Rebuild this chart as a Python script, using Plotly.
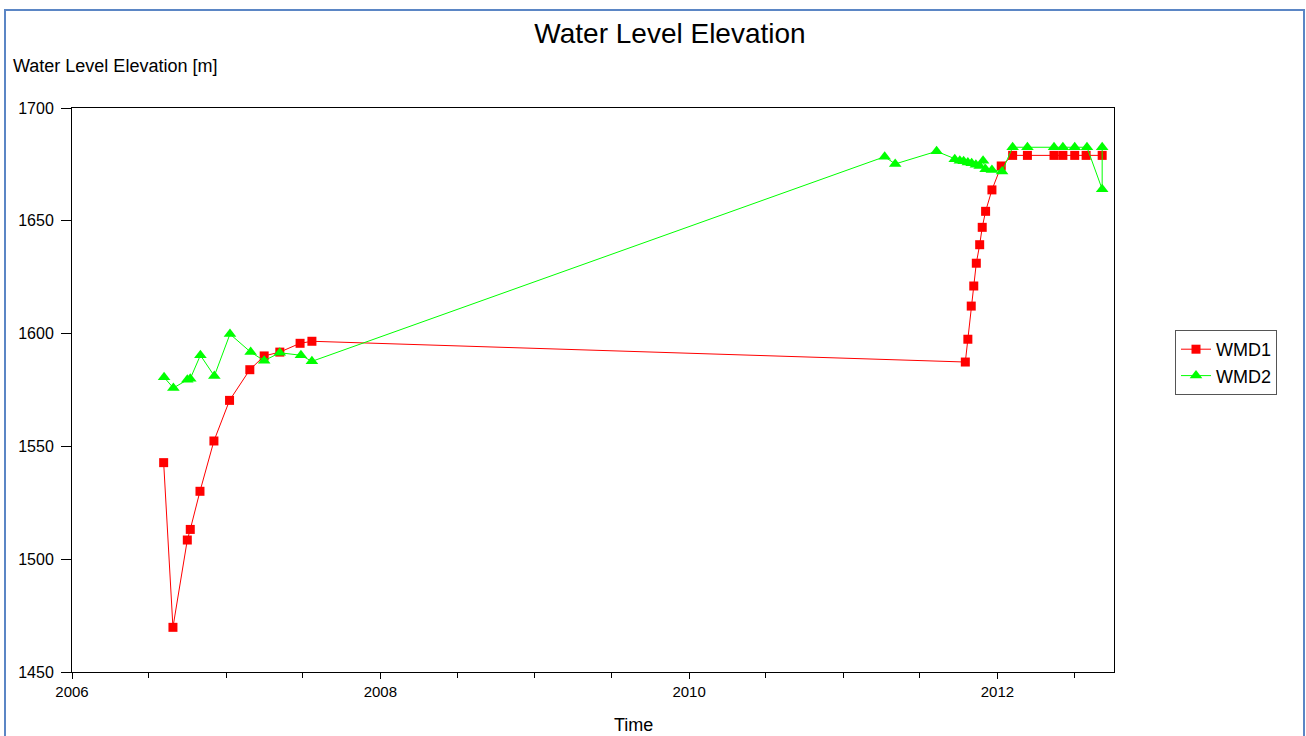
import plotly.graph_objects as go

# WMD1 data
wmd1_dates = ["2006-08-06", "2006-08-28", "2006-10-01", "2006-10-08", "2006-10-31", "2006-12-03",
              "2007-01-09", "2007-02-26", "2007-04-01", "2007-05-08", "2007-06-25", "2007-07-23",
              "2011-10-17", "2011-10-23", "2011-10-31", "2011-11-06", "2011-11-12", "2011-11-20",
              "2011-11-26", "2011-12-04", "2011-12-19", "2012-01-10", "2012-02-06", "2012-03-12",
              "2012-05-14", "2012-06-04", "2012-07-02", "2012-07-29", "2012-09-05"]
wmd1_values = [1542.8, 1469.8, 1508.5, 1513.2, 1530.1, 1552.4,
               1570.4, 1584.0, 1590.1, 1591.8, 1595.7, 1596.6,
               1587.4, 1597.5, 1612.2, 1621.1, 1631.2, 1639.4,
               1647.1, 1654.2, 1663.7, 1674.3, 1679.0, 1679.0,
               1679.0, 1679.0, 1679.0, 1679.0, 1679.0]

# WMD2 data
wmd2_dates = ["2006-08-07", "2006-08-29", "2006-10-01", "2006-10-08", "2006-11-01", "2006-12-04",
              "2007-01-10", "2007-02-28", "2007-04-01", "2007-05-08", "2007-06-27", "2007-07-23",
              "2011-04-09", "2011-05-04", "2011-08-10", "2011-09-22", "2011-10-04", "2011-10-13",
              "2011-10-23", "2011-11-01", "2011-11-11", "2011-11-20", "2011-11-28", "2011-12-04",
              "2011-12-19", "2012-01-12", "2012-02-06", "2012-03-12", "2012-05-14", "2012-06-04",
              "2012-07-02", "2012-07-31", "2012-09-05", "2012-09-05"]
wmd2_values = [1580.6, 1575.9, 1579.5, 1580.0, 1590.4, 1581.2,
               1599.8, 1591.8, 1588.0, 1591.5, 1590.4, 1587.7,
               1678.4, 1675.2, 1680.8, 1677.3, 1676.6, 1676.4,
               1675.8, 1675.5, 1674.9, 1674.3, 1676.6, 1672.8,
               1672.5, 1671.9, 1682.6, 1682.6, 1682.6, 1682.6,
               1682.6, 1682.6, 1664.0, 1682.6]

title_text = "Water Level Elevation"
y_title = "Water Level Elevation [m]"
x_title = "Time"

FONT = "Liberation Sans, Arial, sans-serif"

fig = go.Figure()
fig.add_trace(go.Scatter(x=wmd1_dates, y=wmd1_values, name="WMD1", mode="lines+markers",
                         line=dict(color="#FF0000", width=1),
                         marker=dict(symbol="square", size=9, color="#FF0000")))
fig.add_trace(go.Scatter(x=wmd2_dates, y=wmd2_values, name="WMD2", mode="lines+markers",
                         line=dict(color="#00FF00", width=1),
                         marker=dict(symbol="triangle-up", size=11, color="#00FF00")))

L, R, T, B = 72, 192, 108, 64
W, H = 1306, 736
pw, ph = W - L - R, H - T - B

def px_x(x):
    return (x - L) / pw

def px_y(y):
    return (H - B - y) / ph

fig.update_layout(
    width=W, height=H,
    margin=dict(l=L, r=R, t=T, b=B),
    paper_bgcolor="white", plot_bgcolor="white",
    font=dict(family=FONT, size=16, color="black"),
    title=dict(text=title_text, x=670 / W, xref="container", xanchor="center",
               y=1 - 33 / H, yref="container", yanchor="middle",
               font=dict(size=28, family=FONT, color="black")),
    showlegend=True,
    legend=dict(x=px_x(1175), y=px_y(330), xanchor="left", yanchor="top",
                bordercolor="#555555", borderwidth=1, bgcolor="white",
                font=dict(size=18, family=FONT), itemwidth=30, tracegroupgap=0),
    xaxis=dict(type="date", range=["2006-01-01", "2012-10-03"],
               tick0="2006-01-01", dtick="M24", tickformat="%Y",
               ticks="outside", ticklen=6, tickcolor="black", tickwidth=1,
               showgrid=False, zeroline=False,
               showline=True, linecolor="black", linewidth=1, mirror=True,
               tickfont=dict(size=15),
               minor=dict(dtick="M6", tick0="2006-01-01", ticks="outside", ticklen=5,
                          tickcolor="black", showgrid=False)),
    yaxis=dict(range=[1450, 1700], dtick=50, tick0=1450,
               ticks="outside", ticklen=10, tickcolor="black", tickwidth=1,
               ticklabelstandoff=4,
               showgrid=False, zeroline=False,
               showline=True, linecolor="black", linewidth=1, mirror=True,
               tickfont=dict(size=16)),
    annotations=[
        dict(text=y_title, xref="paper", yref="paper", x=px_x(11), y=px_y(66),
             xanchor="left", yanchor="middle", showarrow=False,
             font=dict(size=18, family=FONT)),
        dict(text=x_title, xref="paper", yref="paper", x=px_x(633), y=px_y(725),
             xanchor="center", yanchor="middle", showarrow=False,
             font=dict(size=18, family=FONT)),
    ],
    shapes=[
        dict(type="rect", xref="paper", yref="paper",
             x0=px_x(5), x1=px_x(1304), y0=px_y(745), y1=px_y(10),
             line=dict(color="#5B86C5", width=2), fillcolor="rgba(0,0,0,0)", layer="below"),
    ],
)

fig.write_html("out.html")
